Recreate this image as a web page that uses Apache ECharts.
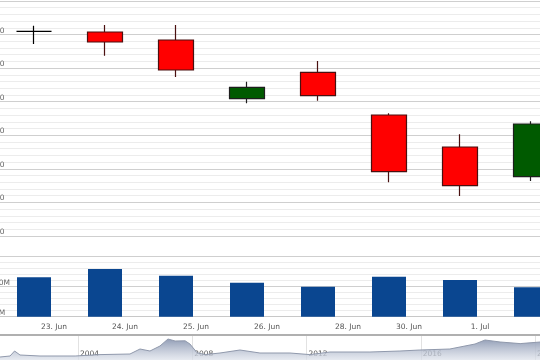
<!DOCTYPE html>
<html><head><meta charset="utf-8">
<script src="https://cdn.jsdelivr.net/npm/echarts@6/dist/echarts.min.js"></script>
<style>html,body{margin:0;padding:0;background:#fff}#c{width:540px;height:360px}</style>
</head><body><div id="c"></div>
<script>
// ---- data ----
const dateLabels = ['23. Jun','24. Jun','25. Jun','26. Jun','28. Jun','30. Jun','1. Jul',''];
const opens  = [160.97, 160.77, 158.38, 140.90, 148.76, 136.04, 126.51, 117.66];
const closes = [160.97, 157.79, 149.45, 144.30, 141.79, 119.15, 114.98, 133.36];
const lows   = [157.19, 153.71, 147.36, 139.53, 140.30, 116.00, 111.91, 116.38];
const highs  = [162.64, 162.85, 162.85, 145.96, 152.13, 136.60, 130.29, 134.16];
const volumes = [13130000, 15900000, 13670000, 11330000, 10000000, 13330000, 12230000, 9800000];
const navYears = [2001.27,2001.62,2001.78,2001.97,2002.67,2003.90,2004.77,2005.82,2006.17,2006.52,2006.87,2007.15,2007.40,2007.75,2007.92,2008.17,2008.45,2008.97,2009.67,2010.37,2011.42,2012.12,2012.82,2014.22,2015.27,2015.97,2017.02,2017.90,2018.25,2018.78,2019.48,2020.18];
const navValues = [15,20,45,25,20,20,27,30,55,45,70,105,95,96,80,36,27,35,50,35,35,27,40,40,45,50,55,80,100,90,82,90];

const font = 'DejaVu Sans';
const candleData = opens.map((o, i) => [o, closes[i], lows[i], highs[i]]);

const chart = echarts.init(document.getElementById('c'), null, { renderer: 'canvas' });
chart.setOption({
  animation: false,
  backgroundColor: '#fff',
  grid: [
    { left: -1.5, width: 568, top: 1, height: 235, containLabel: false, outerBoundsMode: 'none' },
    { left: -1.5, width: 568, top: 256.7, height: 60, containLabel: false, outerBoundsMode: 'none' },
    { left: -36.25, width: 685.5, top: 335, height: 25, containLabel: false, outerBoundsMode: 'none' }
  ],
  xAxis: [
    { type: 'category', gridIndex: 0, data: dateLabels, boundaryGap: true,
      axisLine: { show: false }, axisTick: { show: false }, axisLabel: { show: false } },
    { type: 'category', gridIndex: 1, data: dateLabels, boundaryGap: true,
      axisLine: { show: true, lineStyle: { color: '#c8c8c8' } }, axisTick: { show: false },
      axisLabel: { interval: 0, fontFamily: font, fontSize: 7.5, color: '#555', margin: 6, padding: [0, 0, 0, 40], hideOverlap: false,
        formatter: v => v === '28. Jun' ? '{s|' + v + '}' : v,
        rich: { s: { width: 46, align: 'right', fontFamily: font, fontSize: 7.5, color: '#555' } } } },
    { type: 'value', gridIndex: 2, min: 2000, max: 2024, interval: 4,
      axisLine: { show: false }, axisTick: { show: false },
      splitLine: { show: true, lineStyle: { color: '#e2e2e2' } },
      axisLabel: { inside: true, align: 'left', margin: 2, padding: [0, 0, 0, 2], fontFamily: font, fontSize: 7.5, color: '#555',
        formatter: v => String(v) } },
    { type: 'value', gridIndex: 2, position: 'top', min: 2000, max: 2024,
      axisLine: { show: true, lineStyle: { color: '#b0b0b0', width: 2 } }, axisTick: { show: false },
      axisLabel: { show: false }, splitLine: { show: false } }
  ],
  yAxis: [
    { type: 'value', gridIndex: 0, min: 100, max: 170, interval: 10,
      axisLine: { show: false }, axisTick: { show: false },
      splitLine: { lineStyle: { color: '#cfcfcf' } },
      minorTick: { show: false, splitNumber: 5 },
      minorSplitLine: { show: true, lineStyle: { color: '#ececec' } },
      axisLabel: { margin: -6, verticalAlign: 'bottom', fontFamily: font, fontSize: 7.5, color: '#666', showMaxLabel: false } },
    { type: 'value', gridIndex: 1, min: 0, max: 20000000, interval: 10000000,
      axisLine: { show: false }, axisTick: { show: false },
      splitLine: { lineStyle: { color: '#cfcfcf' } },
      minorTick: { show: false, splitNumber: 5 },
      minorSplitLine: { show: true, lineStyle: { color: '#ececec' } },
      axisLabel: { margin: 4.5, align: 'left', verticalAlign: 'bottom', fontFamily: font, fontSize: 7.5, color: '#666', showMaxLabel: false,
        formatter: v => (v / 1e6) + 'M' } },
    { type: 'value', gridIndex: 2, min: 0, max: 125, show: false, splitLine: { show: false } }
  ],
  series: [
    { type: 'candlestick', xAxisIndex: 0, yAxisIndex: 0, data: candleData, barWidth: 35,
      itemStyle: { color: '#005a00', color0: '#ff0000', borderColor: '#1e1e1e', borderColor0: '#4a1010', borderColorDoji: '#000', borderWidth: 1.2 } },
    { type: 'bar', xAxisIndex: 1, yAxisIndex: 1, data: volumes, barWidth: 34,
      itemStyle: { color: '#0a4690' } },
    { type: 'line', xAxisIndex: 2, yAxisIndex: 2, data: navYears.map((y, i) => [y, navValues[i]]),
      symbol: 'none', smooth: false,
      lineStyle: { color: '#9099ac', width: 1 },
      areaStyle: { opacity: 1, color: new echarts.graphic.LinearGradient(0, 0, 0, 1, [
        { offset: 0, color: 'rgba(140,152,178,0.95)' }, { offset: 1, color: 'rgba(220,225,234,0.7)' }]) } }
  ]
});
</script></body></html>
